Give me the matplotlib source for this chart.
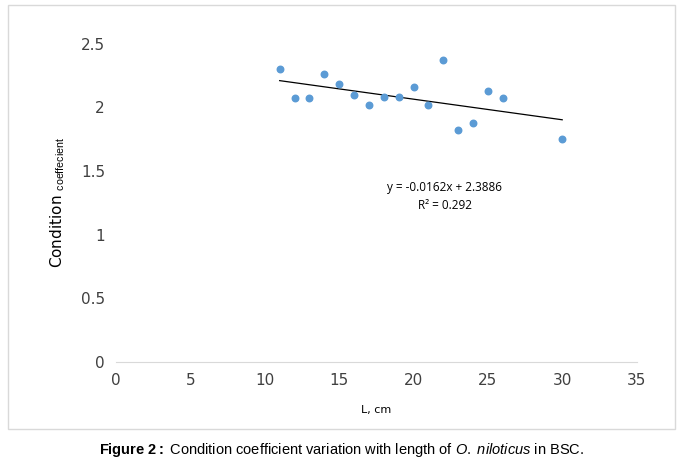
import matplotlib.pyplot as plt
import numpy as np

plt.rcParams['mathtext.fontset'] = 'custom'
plt.rcParams['mathtext.rm'] = 'Liberation Sans'
plt.rcParams['mathtext.it'] = 'Liberation Sans:italic'
plt.rcParams['mathtext.bf'] = 'Liberation Sans:bold'

length = [11, 12, 13, 14, 15, 16, 17, 18, 19, 20, 21, 22, 23, 24, 25, 26, 30]
coef = [2.30, 2.07, 2.07, 2.26, 2.18, 2.10, 2.02, 2.08, 2.08, 2.16, 2.02, 2.37,
        1.82, 1.88, 2.13, 2.07, 1.75]
slope, intercept = -0.0162, 2.3886

fig = plt.figure(figsize=(6.83, 4.71), dpi=100)
# chart border
border = plt.Rectangle((0.012, 0.09), 0.976, 0.9, transform=fig.transFigure,
                       fill=False, edgecolor='#d9d9d9', linewidth=1)
fig.patches.append(border)

ax = fig.add_axes([0.17, 0.232, 0.762, 0.675])
ax.scatter(length, coef, s=22, color='#5b9bd5', zorder=3)
xl = np.array([min(length), max(length)])
ax.plot(xl, slope * xl + intercept, color='black', linewidth=0.9)

ax.set_xlim(0, 35)
ax.set_ylim(0, 2.5)
ax.set_xticks(range(0, 36, 5))
ax.set_yticks([0, 0.5, 1, 1.5, 2, 2.5])
ax.set_yticklabels(['0', '0.5', '1', '1.5', '2', '2.5'])
for s in ['top', 'right', 'left']:
    ax.spines[s].set_visible(False)
ax.spines['bottom'].set_color('#d9d9d9')
ax.tick_params(length=0, labelsize=11, colors='#404040', pad=8)

ax.text(22.1, 1.3, 'y = -0.0162x + 2.3886\nR² = 0.292', ha='center', va='center',
        fontsize=8.5, color='black', family='Open Sans', linespacing=1.5)
ax.set_xlabel('L, cm', fontsize=8, labelpad=12)
fig.text(0.085, 0.57, 'Condition $_{\\mathrm{coeffecient}}$', rotation=90,
         ha='center', va='center', fontsize=11)

fig.text(0.5, 0.045, r'$\bf{Figure}$ $\bf{2}$$\bf{:}$ Condition coefficient variation with length of '
         r'$\it{O.}$ $\it{niloticus}$ in BSC.', ha='center', va='center', fontsize=10.5,
         family='Liberation Sans')

fig.savefig('out.png', dpi=100)
